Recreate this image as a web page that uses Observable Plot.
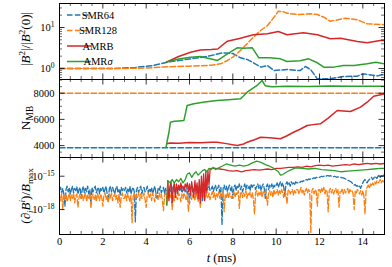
<!DOCTYPE html>
<html><head><meta charset="utf-8">
<script src="https://cdn.jsdelivr.net/npm/d3@7"></script>
<script src="https://cdn.jsdelivr.net/npm/@observablehq/plot@0.6"></script>
<style>
body{margin:0;background:#fff;}
#c{position:relative;width:392px;height:267px;overflow:hidden;}
#c svg{position:absolute;left:0;top:0;background:transparent;overflow:visible;}
</style></head><body><div id="c"></div>
<script>
// ---------- x axis ----------
const xMajorTicks = [0,2,4,6,8,10,12,14];
const xMinorTicks = [0.5,1,1.5,2.5,3,3.5,4.5,5,5.5,6.5,7,7.5,8.5,9,9.5,10.5,11,11.5,12.5,13,13.5,14.5,15];
const xTickLabels = ["0","2","4","6","8","10","12","14"];

// ---------- panel 1: |B^2|/|B^2(0)| ----------
const b2MajorTicks = [1,10];
const b2MinorTicks = [0.6,0.7,0.8,0.9,2,3,4,5,6,7,8,9,20,30];
const smr64T  = [0,1,2,2.5,3.5,4.3,5,5.5,6,6.5,7,7.5,8,8.35,8.7,9.3,9.6,9.9,10.5,11.1,11.35,11.6,11.9,12.5,13.1,13.75,14,14.7,15];
const smr64B2 = [1,1,1,1,1.06,1.18,1.44,1.57,1.70,1.85,2.07,2.39,2.32,1.82,1.63,1.08,1.18,0.89,0.945,0.89,1.12,0.93,0.56,0.56,0.64,0.65,0.74,0.66,0.74];
const smr128T  = [0,3,4,5,6,7.0,7.43,7.75,8.0,8.35,8.65,8.95,9.28,9.6,9.9,10.1,10.3,10.5,11.0,11.6,11.9,12.2,12.5,12.85,13.2,13.75,14.2,15];
const smr128B2 = [1,1,1.03,1.10,1.14,1.2,1.30,1.57,1.89,2.75,4.0,5.8,8.45,11.2,17.8,25,24.5,22.3,20.7,21.6,20.7,17.8,14.2,15.4,16.9,15.4,12.3,11.7];
const amrbT  = [4.95,5.5,6.05,6.5,7.0,7.3,7.75,8.35,8.95,9.6,10.1,10.5,11.26,11.9,12.5,12.97,13.75,14.2,14.8,15];
const amrbB2 = [1.44,1.96,2.50,2.83,2.91,2.99,4.63,5.48,6.64,7.02,7.99,6.64,7.43,6.64,5.30,5.46,4.56,4.24,4.82,4.82];
const amrsT  = [4.95,5.5,6.05,6.5,7.3,7.75,8.2,8.5,8.9,9.2,9.7,10.2,10.5,11.1,11.5,11.9,12.2,12.65,13.1,13.6,14.2,14.6,15];
const amrsB2 = [1.44,1.70,1.89,1.96,1.57,2.28,3.20,3.13,3.20,1.82,1.82,1.72,1.48,1.54,1.72,1.38,1.08,1.08,1.18,1.18,1.30,1.42,1.30];

// ---------- panel 2: N_MB ----------
const nmbMajorTicks = [4000,6000,8000];
const nmbMinorTicks = [3500,4500,5000,5500,6500,7000,7500,8500,9000];
const nmbTickLabels = ["4000","6000","8000"];
const smr64NT = [0,15];   const smr64N = [3830,3830];
const smr128NT = [0,15];  const smr128N = [8000,8000];
const amrsNT = [4.92,4.97,5.05,5.12,5.3,5.5,5.74,5.82,5.89,6.2,6.7,7.28,7.8,8.35,8.5,8.66,8.9,9.12,9.35,9.5,9.8,10.5,11.5,12.5,13.5,14.5,15];
const amrsN  = [3880,4350,5000,5790,5850,5880,5920,6500,7060,7190,7330,7440,7500,7570,7800,8080,8350,8590,8970,8560,8500,8540,8520,8550,8530,8540,8530];
const amrbNT = [4.95,5.1,5.5,6.0,6.5,7.0,7.28,7.7,8.2,8.5,8.66,9.0,9.28,9.7,10.2,10.5,10.8,11.1,11.43,11.7,12.04,12.4,12.82,13.1,13.43,13.89,14.2,14.5,15];
const amrbN  = [4140,4200,4180,4230,4210,4250,4260,4150,4010,4120,4260,4450,4640,4600,4520,4750,5020,5250,5535,5600,5665,6100,6680,6640,6603,6932,7313,7771,7950];

// ---------- panel 3: (d_i B^i)/B_max, log10 values, sampled every 0.05 ms ----------
const divMajorTicks = [1e-18,1e-15];
const divSampleStep = 0.05;
const smr64DivLog = [
 -16.3,-16.0,-16.5,-16.1,-16.6,-17.7,-16.2,-15.9,-16.4,-16.0,-16.6,-16.2,-15.9,-16.5,-16.1,-16.3,-15.95,-16.6,-16.2,-16.0,
 -17.0,-16.2,-15.9,-16.5,-16.1,-16.4,-15.9,-16.6,-16.2,-17.5,-16.0,-16.4,-16.1,-15.9,-16.5,-16.2,-16.0,-16.6,-16.1,-16.3,
 -16.0,-16.5,-16.2,-15.9,-16.6,-17.3,-16.1,-15.9,-16.4,-16.0,-16.3,-16.6,-16.1,-15.9,-16.5,-16.2,-16.7,-16.0,-16.3,-16.1,
 -16.3,-16.0,-16.5,-16.1,-16.4,-15.9,-16.6,-16.2,-16.0,-16.4,-19.1,-16.3,-16.0,-16.5,-16.1,-15.9,-16.6,-16.2,-16.0,-16.4,
 -16.3,-15.9,-16.5,-16.1,-16.4,-16.0,-16.6,-16.2,-15.9,-16.5,-17.0,-16.1,-16.3,-15.9,-16.5,-16.2,-16.0,-16.6,-16.1,-16.3,
 -16.2,-16.6,-16.0,-16.4,-16.1,-15.9,-16.5,-16.2,-16.0,-16.6,-16.1,-16.3,-15.9,-16.5,-16.2,-16.0,-16.4,-16.1,-16.6,-16.0,
 -17.5,-16.1,-15.9,-16.4,-16.0,-16.3,-15.8,-16.5,-16.1,-15.9,-16.3,-16.0,-17.3,-16.1,-15.8,-16.4,-16.0,-16.2,-15.9,-16.3,
 -16.2,-15.9,-16.4,-16.0,-15.8,-16.3,-16.1,-15.8,-16.5,-16.0,-19.4,-16.1,-15.8,-16.2,-15.9,-16.4,-16.0,-15.8,-16.3,-15.9,
 -17.0,-16.0,-15.8,-16.3,-15.9,-16.1,-15.7,-16.2,-15.9,-16.4,-16.0,-15.7,-16.2,-15.8,-16.1,-15.9,-16.3,-15.7,-16.0,-15.8,
 -15.8,-16.2,-15.9,-15.7,-16.1,-15.8,-16.3,-15.9,-15.7,-16.1,-17.0,-15.9,-15.7,-16.2,-15.8,-16.0,-15.7,-16.1,-15.8,-16.0,
 -15.8,-15.6,-16.0,-15.7,-15.5,-15.9,-15.6,-16.0,-16.8,-15.7,-15.5,-15.8,-15.6,-15.9,-15.5,-15.7,-15.6,-15.8,-15.5,-15.6,
 -15.6,-15.5,-15.55,-15.45,-15.5,-15.4,-15.45,-15.35,-15.3,-15.35,-15.25,-15.3,-15.2,-15.25,-15.2,-15.15,-15.2,-15.1,-15.15,-15.1,
 -15.1,-15.05,-15.0,-15.05,-15.0,-14.95,-15.0,-14.95,-14.95,-15.0,-14.95,-15.0,-15.0,-15.05,-15.0,-15.05,-15.1,-15.05,-15.1,-15.1,
 -15.1,-15.15,-15.15,-15.2,-15.25,-15.3,-15.35,-15.4,-15.45,-15.5,-15.6,-15.7,-15.8,-15.75,-15.9,-15.85,-16.0,-15.9,-16.1,-15.8,
 -15.6,-15.4,-15.3,-15.5,-15.6,-15.4,-15.3,-15.2,-15.1,-15.3,-15.2,-15.0,-15.1,-15.2,-15.0,-14.9,-15.1,-14.95,-15.0,-14.9,
 -14.9];
const smr128DivLog = [
 -16.8,-17.2,-16.5,-18.0,-16.7,-17.1,-16.6,-17.3,-16.9,-16.5,-17.2,-16.7,-17.0,-16.5,-17.4,-16.8,-16.6,-17.8,-16.9,-16.6,
 -17.0,-16.6,-17.2,-16.8,-16.5,-17.3,-16.7,-17.0,-16.5,-17.9,-16.8,-16.6,-17.1,-16.7,-17.3,-16.5,-16.9,-17.2,-16.6,-16.9,
 -17.7,-16.7,-16.5,-17.1,-16.8,-17.3,-16.6,-17.0,-16.5,-17.2,-16.8,-16.6,-17.1,-16.7,-17.4,-16.6,-17.8,-16.8,-16.5,-17.0,
 -17.0,-16.6,-17.2,-16.5,-16.9,-17.3,-16.7,-19.2,-16.8,-16.5,-17.1,-16.7,-16.9,-16.5,-17.2,-16.6,-17.0,-16.8,-16.5,-17.1,
 -17.8,-16.7,-16.5,-17.0,-16.6,-17.2,-16.5,-16.9,-17.3,-16.6,-16.8,-17.1,-16.5,-16.9,-16.6,-17.2,-18.1,-16.7,-16.5,-17.0,
 -17.0,-16.6,-16.9,-16.5,-18.0,-16.7,-17.2,-16.5,-16.9,-17.1,-16.5,-16.8,-17.3,-16.6,-17.0,-16.5,-16.8,-17.2,-16.6,-18.2,
 -16.8,-16.5,-17.1,-16.6,-16.9,-17.2,-16.5,-16.8,-17.3,-16.6,-17.8,-16.5,-16.9,-16.6,-17.1,-16.5,-16.8,-17.0,-16.5,-17.1,
 -16.7,-16.4,-16.9,-16.5,-17.1,-16.6,-16.9,-16.4,-17.0,-16.5,-16.8,-16.4,-18.2,-16.6,-16.9,-16.4,-17.0,-16.5,-16.8,-17.0,
 -16.6,-16.4,-16.9,-16.5,-16.7,-16.3,-17.9,-16.6,-16.4,-16.9,-16.5,-16.8,-16.3,-17.0,-16.5,-16.7,-16.4,-16.9,-16.5,-17.1,
 -18.4,-16.5,-16.3,-16.8,-16.4,-16.7,-16.3,-16.9,-16.4,-16.6,-16.3,-16.8,-17.6,-16.4,-16.3,-16.7,-16.4,-16.9,-16.2,-16.6,
 -16.5,-16.2,-16.7,-16.3,-16.6,-16.2,-16.5,-16.9,-16.3,-16.6,-17.5,-16.3,-16.2,-16.6,-16.4,-16.2,-16.7,-16.3,-16.5,-16.2,
 -16.2,-16.6,-16.3,-16.0,-16.5,-16.2,-16.7,-16.3,-16.1,-16.5,-16.2,-16.4,-20.1,-16.3,-16.1,-16.6,-16.2,-16.4,-17.7,-16.2,
 -16.2,-16.5,-16.1,-16.4,-16.0,-16.6,-16.2,-16.4,-18.2,-16.3,-16.1,-16.5,-16.2,-16.6,-16.3,-16.1,-16.5,-16.2,-17.8,-16.4,
 -16.4,-16.1,-16.6,-16.2,-16.5,-16.3,-16.1,-16.6,-16.2,-16.4,-16.3,-16.6,-18.0,-16.3,-16.5,-16.2,-16.4,-16.6,-16.3,-16.7,
 -16.3,-16.8,-18.4,-16.2,-16.0,-15.8,-16.1,-15.7,-15.9,-15.6,-15.8,-15.5,-15.7,-15.4,-15.6,-15.5,-15.3,-15.6,-15.4,-15.5,
 -15.4];
const amrbDivT = [
 4.95,5.00,5.05,5.10,5.15,5.20,5.25,5.30,5.35,5.40,5.45,5.50,5.55,5.60,5.65,5.70,5.75,5.80,5.85,5.90,5.95,
 6.00,6.05,6.10,6.15,6.20,6.25,6.30,6.35,6.40,6.45,6.50,6.55,6.60,6.65,6.70,6.75,6.80,6.85,6.90,6.95,7.00,
 7.2,7.4,7.6,7.8,8.0,8.2,8.4,8.6,8.8,9.0,9.2,9.4,9.6,9.8,10.0,10.2,10.4,10.6,10.8,11.0,
 11.2,11.4,11.6,11.8,12.0,12.2,12.4,12.6,12.8,13.0,13.2,13.4,13.6,13.8,14.0,14.2,14.4,14.6,14.8,15.0];
const amrbDivLog = [
 -17.6,-15.4,-17.2,-15.9,-15.5,-17.4,-16.0,-15.6,-16.9,-15.7,-16.4,-15.8,-16.2,-15.6,-16.1,-15.9,-16.3,-15.7,-16.0,-15.6,-16.4,
 -15.7,-16.7,-15.5,-16.2,-16.9,-15.4,-16.6,-15.6,-17.0,-15.3,-17.4,-15.0,-16.9,-14.8,-17.2,-14.6,-16.5,-14.5,-15.8,-14.4,-14.3,
 -14.3,-14.35,-14.4,-14.5,-14.55,-14.5,-14.6,-14.5,-14.45,-14.4,-14.45,-14.4,-14.35,-14.4,-14.3,-14.3,-14.25,-14.2,-14.2,-14.15,
 -14.2,-14.1,-14.15,-14.05,-14.0,-14.05,-14.0,-14.1,-14.05,-14.0,-13.95,-14.0,-13.9,-13.95,-13.9,-13.85,-13.9,-13.85,-13.9,-13.85];
const amrsDivT = [
 4.95,5.0,5.1,5.2,5.3,5.4,5.5,5.6,5.7,5.8,5.9,6.0,6.1,6.2,6.3,6.4,6.5,6.6,6.7,6.8,6.9,7.0,7.1,7.2,7.3,
 7.5,7.7,7.9,8.1,8.3,8.5,8.7,8.9,9.1,9.3,9.5,9.7,9.9,10.1,10.2,10.3,10.5,10.7,10.9,
 11.2,11.5,11.8,12.1,12.4,12.7,13.0,13.3,13.6,13.9,14.2,14.5,14.8,15.0];
const amrsDivLog = [
 -17.6,-15.4,-15.6,-15.3,-15.6,-15.3,-15.5,-15.2,-15.6,-15.3,-14.8,-14.7,-15.1,-14.8,-14.6,-14.9,-14.7,-14.5,-14.4,-14.6,-14.3,-14.4,-14.2,-14.4,-14.3,
 -14.1,-13.9,-14.0,-14.1,-14.0,-14.1,-14.0,-13.8,-13.65,-13.75,-13.95,-14.1,-14.3,-14.6,-14.9,-14.85,-14.6,-14.4,-14.25,
 -14.3,-14.35,-14.3,-14.4,-14.45,-14.5,-14.6,-14.55,-14.5,-14.45,-14.4,-14.35,-14.3,-14.3];

const seriesNames = ["SMR64","SMR128","AMRB","AMRσ"];
const colors = {SMR64:"#1f77b4", SMR128:"#ff7f0e", AMRB:"#d62728", "AMRσ":"#2ca02c"};

// ---------- layout ----------
const W = 392, H = 267, ML = 59, MR = 8;
const FONT = "'Liberation Serif', 'DejaVu Serif', serif";
const panelsPx = [{top:3,bottom:79},{top:79,bottom:157},{top:157,bottom:234}];
const innerW = W - ML - MR;
const MAJ = 5.5, MIN = 3;
const DASH = "5.5,2.4";

function rows(ts, vs, f = v => v) { const n = Math.min(ts.length, vs.length); const out = []; for (let i = 0; i < n; i++) out.push({t: ts[i], v: f(vs[i])}); return out; }
const fromLog = e => Math.pow(10, e);
const sampledTimes = arr => arr.map((_, i) => +(i * divSampleStep).toFixed(2));

function frameTicks(p, yMaj, yMin) {
  const h = p.bottom - p.top;
  const m = [];
  m.push(Plot.tickX(xMajorTicks, {x: d => d, insetTop: h - MAJ, stroke: "black", strokeWidth: 0.8}));
  m.push(Plot.tickX(xMajorTicks, {x: d => d, insetBottom: h - MAJ, stroke: "black", strokeWidth: 0.8}));
  m.push(Plot.tickX(xMinorTicks, {x: d => d, insetTop: h - MIN, stroke: "black", strokeWidth: 0.6}));
  m.push(Plot.tickX(xMinorTicks, {x: d => d, insetBottom: h - MIN, stroke: "black", strokeWidth: 0.6}));
  m.push(Plot.tickY(yMaj, {y: d => d, insetRight: innerW - MAJ, stroke: "black", strokeWidth: 0.8}));
  m.push(Plot.tickY(yMaj, {y: d => d, insetLeft: innerW - MAJ, stroke: "black", strokeWidth: 0.8}));
  if (yMin.length) {
    m.push(Plot.tickY(yMin, {y: d => d, insetRight: innerW - MIN, stroke: "black", strokeWidth: 0.6}));
    m.push(Plot.tickY(yMin, {y: d => d, insetLeft: innerW - MIN, stroke: "black", strokeWidth: 0.6}));
  }
  return m;
}

function makePanel(p, yScale, lineMarks, yMaj, yMin, yFormat, showX) {
  const marks = [...lineMarks, Plot.frame({stroke: "black", strokeWidth: 1}), ...frameTicks(p, yMaj, yMin),
    Plot.axisY({ticks: yMaj, tickFormat: yFormat, tickSize: 0, tickPadding: 5, label: null})];
  if (showX) marks.push(Plot.axisX({ticks: xMajorTicks, tickFormat: (d, i) => xTickLabels[i], tickSize: 0, tickPadding: 3, label: null}));
  return Plot.plot({
    width: W, height: H,
    marginLeft: ML, marginRight: MR, marginTop: p.top, marginBottom: H - p.bottom,
    x: {domain: [0, 15], axis: showX ? undefined : null},
    y: yScale,
    style: {background: "transparent", fontFamily: FONT, fontSize: "10.5px", color: "black"},
    marks
  });
}

function lineMark(data, name, dashed, sw) {
  return Plot.line(data, {x: "t", y: "v", stroke: colors[name], strokeWidth: sw, strokeDasharray: dashed ? DASH : null, clip: true});
}

const expFormat = d => "10^" + String(Math.round(Math.log10(d))).replace("-", "−");

const p1 = makePanel(panelsPx[0], {type: "log", domain: [0.539, 38.5]}, [
  lineMark(rows(smr64T, smr64B2), "SMR64", true, 1.5),
  lineMark(rows(smr128T, smr128B2), "SMR128", true, 1.5),
  lineMark(rows(amrbT, amrbB2), "AMRB", false, 1.5),
  lineMark(rows(amrsT, amrsB2), "AMRσ", false, 1.5)
], b2MajorTicks, b2MinorTicks, expFormat, false);

const p2 = makePanel(panelsPx[1], {domain: [3090, 9046]}, [
  lineMark(rows(smr64NT, smr64N), "SMR64", true, 1.5),
  lineMark(rows(smr128NT, smr128N), "SMR128", true, 1.5),
  lineMark(rows(amrbNT, amrbN), "AMRB", false, 1.5),
  lineMark(rows(amrsNT, amrsN), "AMRσ", false, 1.5)
], nmbMajorTicks, nmbMinorTicks, (d, i) => nmbTickLabels[i], false);

const p3 = makePanel(panelsPx[2], {type: "log", domain: [Math.pow(10, -20.25), Math.pow(10, -13.315)]}, [
  lineMark(rows(sampledTimes(smr64DivLog), smr64DivLog, fromLog), "SMR64", true, 1.3),
  lineMark(rows(sampledTimes(smr128DivLog), smr128DivLog, fromLog), "SMR128", true, 1.3),
  lineMark(rows(amrbDivT, amrbDivLog, fromLog), "AMRB", false, 1.3),
  lineMark(rows(amrsDivT, amrsDivLog, fromLog), "AMRσ", false, 1.3)
], divMajorTicks, [], expFormat, true);

const host = document.getElementById("c");
[p1, p2, p3].forEach(s => host.appendChild(s));

// superscript exponents on log tick labels
document.querySelectorAll("#c svg text").forEach(t => {
  const m = /^10\^(.+)$/.exec(t.textContent);
  if (!m) return;
  t.textContent = "10";
  const s = document.createElementNS("http://www.w3.org/2000/svg", "tspan");
  s.setAttribute("dy", "-0.45em");
  s.setAttribute("font-size", "72%");
  s.textContent = m[1];
  t.appendChild(s);
});

// rich text helper (italic / sup / sub)
function richText(svg, x, y, rot, parts, size, anchor) {
  const t = svg.append("text")
    .attr("transform", `translate(${x},${y}) rotate(${rot})`)
    .attr("text-anchor", anchor || "middle")
    .attr("font-family", FONT).attr("font-size", size).attr("fill", "black");
  let cur = 0;
  parts.forEach(p => {
    const want = p.sup ? -0.42 * size : p.sub ? 0.22 * size : 0;
    const s = t.append("tspan").text(p.t);
    if (want !== cur) s.attr("dy", (want - cur) + "px");
    cur = want;
    if (p.i) s.attr("font-style", "italic");
    if (p.sup || p.sub) s.attr("font-size", (size * 0.7) + "px");
  });
  return t;
}

const s1 = d3.select(p1), s2 = d3.select(p2), s3 = d3.select(p3);
richText(s1, 30, 39, -90, [{t:"|"},{t:"B",i:1},{t:"2",sup:1},{t:"|/|"},{t:"B",i:1},{t:"2",sup:1},{t:"(0)|"}], 13);
richText(s2, 30, 118, -90, [{t:"N"},{t:"MB",sub:1}], 13.5);
richText(s3, 30, 196, -90, [{t:"("},{t:"∂"},{t:"i",sub:1,i:1},{t:"B",i:1},{t:"i",sup:1,i:1},{t:")/"},{t:"B",i:1},{t:"max",sub:1}], 13);
richText(s3, 221.5, 262, 0, [{t:"t",i:1},{t:" (ms)"}], 12.5);

// legend (upper left of top panel)
seriesNames.forEach((name, i) => {
  const y = 15 + i * 15.5;
  s1.append("line").attr("x1", 67).attr("x2", 91).attr("y1", y).attr("y2", y)
    .attr("stroke", colors[name]).attr("stroke-width", 1.5)
    .attr("stroke-dasharray", i < 2 ? DASH : null);
  const txt = s1.append("text").attr("x", 98).attr("y", y).attr("dy", "0.35em")
    .attr("font-family", FONT).attr("font-size", 10.5).attr("fill", "black");
  if (name === "AMRσ") { txt.append("tspan").text("AMR"); txt.append("tspan").attr("font-style", "italic").text("σ"); }
  else txt.text(name);
});
</script></body></html>
